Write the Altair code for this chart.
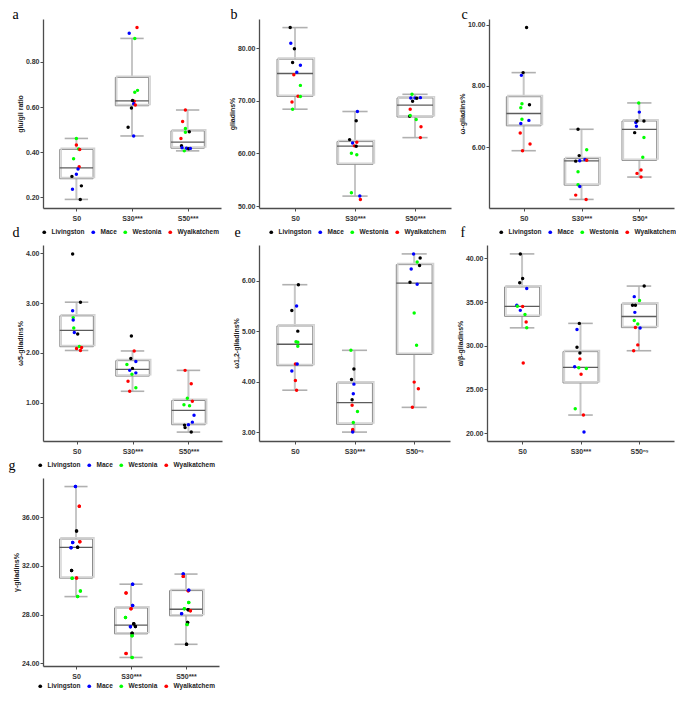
import altair as alt
import pandas as pd

VARIETIES = ["Livingston", "Mace", "Westonia", "Wyalkatchem"]
VAR_COLORS = ["#000000", "#0000ff", "#00ff00", "#ff0000"]
CODE = {"K": "Livingston", "B": "Mace", "G": "Westonia", "R": "Wyalkatchem"}

# ---- panel a : glu/gli ratio ----
A_VAL = [[0.461, 0.432, 0.414, 0.412, 0.371, 0.336, 0.326, 0.302, 0.293, 0.251, 0.236, 0.191],
         [0.952, 0.927, 0.904, 0.674, 0.666, 0.626, 0.629, 0.615, 0.609, 0.596, 0.511, 0.472],
         [0.587, 0.536, 0.505, 0.491, 0.488, 0.461, 0.429, 0.420, 0.418, 0.415, 0.417, 0.406]]
A_VAR = ["GRGRGRBBKKBK", "RBGGGRKBRKKB", "RRGKGRKBBKBG"]
A_JIT = [[0.00, 0.00, 0.04, 0.06, -0.05, 0.05, 0.03, 0.00, -0.08, 0.09, -0.07, 0.07],
         [0.09, -0.05, 0.05, 0.10, 0.05, 0.04, 0.01, 0.03, 0.06, -0.01, -0.07, 0.03],
         [-0.04, -0.09, -0.04, 0.03, -0.04, -0.12, -0.11, -0.10, -0.02, 0.02, 0.05, -0.06]]

# ---- panel b : gliadins% ----
B_VAL = [[83.96, 81.0, 79.94, 77.3, 76.8, 75.47, 74.97, 72.96, 70.9, 70.85, 69.81, 68.43],
         [67.99, 66.23, 62.64, 62.01, 62.14, 61.45, 61.38, 60.06, 59.75, 52.52, 51.89, 51.26],
         [71.26, 70.57, 70.57, 70.63, 70.5, 69.94, 68.43, 67.1, 67.23, 66.48, 65.09, 63.02]]
B_VAR = ["KBKKBBRGRGRG", "BKKBRRKGGGBR", "GBBBKKRKGGRR"]
B_JIT = [[-0.08, -0.07, -0.01, -0.04, 0.09, 0.03, -0.02, 0.09, 0.05, 0.09, -0.05, -0.04],
         [0.04, 0.02, -0.09, -0.04, 0.03, -0.01, 0.02, -0.06, 0.03, -0.06, 0.08, 0.09],
         [-0.05, -0.07, 0.00, 0.09, 0.03, -0.04, -0.08, -0.09, -0.08, 0.02, 0.10, 0.09]]

# ---- panel c : omega-gliadins% ----
C_VAL = [[9.90, 8.43, 8.34, 7.41, 7.38, 7.28, 6.91, 6.87, 6.77, 6.46, 6.10, 5.88],
         [6.58, 5.91, 5.72, 5.59, 5.57, 5.54, 5.55, 5.19, 4.77, 4.71, 4.43, 4.29],
         [7.44, 7.14, 6.80, 6.85, 6.85, 6.68, 6.47, 6.31, 5.67, 5.25, 5.14, 5.02]]
C_VAR = ["KKBGKGGBBRRR", "KGKBRKBGGBRR", "GBBKKBKGGRRR"]
C_JIT = [[0.05, -0.01, -0.04, -0.03, 0.10, -0.05, -0.03, 0.09, -0.05, -0.06, 0.11, -0.02],
         [-0.06, 0.09, -0.04, 0.06, 0.09, -0.10, -0.03, -0.06, -0.06, -0.03, -0.10, 0.08],
         [-0.01, 0.00, -0.06, -0.04, 0.08, -0.05, -0.08, 0.08, 0.06, 0.03, -0.04, 0.03]]

# ---- panel d : omega5-gliadins% ----
D_VAL = [[3.99, 3.02, 2.85, 2.71, 2.66, 2.50, 2.41, 2.38, 2.13, 2.11, 2.09, 2.05],
         [2.34, 2.04, 1.89, 1.83, 1.77, 1.69, 1.65, 1.60, 1.57, 1.43, 1.30, 1.23],
         [1.65, 1.38, 1.09, 1.03, 0.96, 0.94, 0.75, 0.61, 0.56, 0.55, 0.50, 0.41]]
D_VAR = ["KKBGBGBKGRRR", "KRKBGKBBGRGR", "RRGRGGBBBKKK"]
D_JIT = [[-0.07, 0.07, -0.07, -0.06, -0.06, -0.05, -0.04, 0.02, 0.05, 0.09, 0.00, 0.07],
         [-0.02, 0.03, -0.03, 0.06, -0.10, 0.00, -0.05, 0.06, -0.01, -0.08, 0.06, -0.05],
         [-0.06, 0.05, -0.02, 0.07, -0.08, 0.02, 0.10, 0.07, 0.00, -0.07, -0.06, 0.05]]

# ---- panel e : omega1,2-gliadins% ----
E_VAL = [[5.92, 5.50, 5.41, 5.00, 4.79, 4.78, 4.70, 4.35, 4.35, 4.21, 4.02, 3.83],
         [4.62, 4.25, 4.04, 3.95, 3.76, 3.64, 3.53, 3.41, 3.19, 3.05, 3.02, 3.00],
         [6.53, 6.45, 6.37, 6.30, 6.23, 5.97, 5.93, 5.36, 4.72, 3.99, 3.86, 3.49]]
E_VAR = ["KBKKGGGRBBRR", "GKKBBKRGGRRB", "BKGKBKBGGRRR"]
E_JIT = [[0.06, 0.03, -0.05, 0.05, 0.02, 0.05, 0.05, 0.01, 0.04, -0.05, 0.01, 0.03],
         [-0.06, -0.01, -0.05, -0.01, -0.02, -0.04, -0.04, 0.05, -0.02, -0.03, -0.03, -0.03],
         [-0.01, 0.10, 0.05, 0.09, -0.05, -0.07, 0.05, 0.00, 0.04, 0.00, 0.07, -0.03]]

# ---- panel f : alpha/beta-gliadins% ----
F_VAL = [[40.51, 37.69, 37.22, 36.56, 34.64, 34.52, 34.48, 34.05, 33.58, 32.72, 32.05, 28.02],
         [32.56, 31.86, 29.82, 29.16, 28.49, 27.59, 27.48, 27.40, 26.73, 22.78, 22.07, 20.12],
         [36.83, 35.62, 35.19, 34.64, 34.64, 33.82, 32.88, 32.49, 32.09, 32.02, 30.10, 29.43]]
F_VAR = ["KKKBBGRBGRGR", "KBKKRBGGRGRB", "KBGKKBGGRBRR"]
F_JIT = [[-0.03, 0.01, -0.04, 0.08, -0.09, -0.08, 0.01, -0.03, 0.05, 0.07, 0.08, 0.02],
         [-0.02, -0.06, -0.06, -0.01, -0.01, -0.10, -0.03, 0.10, 0.01, -0.09, 0.05, 0.06],
         [0.09, -0.08, 0.01, -0.11, -0.06, -0.07, -0.08, -0.02, -0.06, 0.02, -0.02, -0.09]]

# ---- panel g : gamma-gliadins% ----
G_VAL = [[38.52, 36.91, 34.87, 33.99, 33.93, 33.50, 33.53, 31.62, 30.98, 31.00, 29.94, 29.48],
         [30.50, 29.77, 28.75, 28.48, 27.76, 27.25, 27.03, 27.00, 26.47, 26.26, 24.81, 24.48],
         [31.33, 31.14, 29.96, 30.01, 29.00, 28.48, 28.40, 28.32, 28.08, 27.36, 27.19, 25.56]]
G_VAR = ["BRKRBBKKGRGG", "BRBRGKKBKGRG", "BRRBGGKRBKGK"]
G_JIT = [[-0.01, 0.06, 0.01, 0.07, -0.06, -0.09, 0.03, -0.08, -0.07, 0.01, 0.08, 0.03],
         [0.03, -0.09, 0.03, 0.00, -0.10, 0.05, 0.08, -0.01, 0.02, 0.02, -0.09, 0.02],
         [-0.05, -0.05, 0.04, 0.05, 0.05, -0.03, 0.04, 0.08, -0.08, 0.03, 0.02, 0.01]]

Y_TITLES = {"a": "glu/gli ratio", "b": "gliadins%", "c": "ω-gliadins%", "d": "ω5-gliadins%",
            "e": "ω1,2-gliadins%", "f": "α/β-gliadins%", "g": "γ-gliadins%"}
Y_TICKS = {"a": [0.2, 0.4, 0.6, 0.8], "b": [50, 60, 70, 80], "c": [6, 8, 10], "d": [1, 2, 3, 4],
           "e": [3, 4, 5, 6], "f": [20, 25, 30, 35, 40], "g": [24, 28, 32, 36]}
X_LABELS = {"a": ["S0", "S30***", "S50***"], "b": ["S0", "S30***", "S50***"],
            "c": ["S0", "S30***", "S50*"], "d": ["S0", "S30***", "S50***"],
            "e": ["S0", "S30***", "S50ⁿˢ"], "f": ["S0", "S30***", "S50ⁿˢ"],
            "g": ["S0", "S30***", "S50***"]}

FONT = "Liberation Sans"


def build_df(vals, codes, jits):
    rows = []
    for gi in range(3):
        for v, c, j in zip(vals[gi], codes[gi], jits[gi]):
            rows.append({"grp": gi + 1, "val": v, "variety": CODE[c], "jit": j})
    return pd.DataFrame(rows)


def legend_def(lx, ly):
    return alt.Legend(orient="none", legendX=lx, legendY=ly, direction="horizontal", title=None,
                      symbolType="circle", symbolSize=14, symbolStrokeWidth=0, gridAlign="none",
                      labelFont=FONT, labelFontSize=6.5, labelFontWeight="bold", labelColor="#222",
                      columnPadding=5, labelOffset=4, padding=0)


def panel(letter, vals, codes, jits, width, height, dx=0, toffset=2,
          legend_top=None, legend_bottom=None):
    df = build_df(vals, codes, jits)
    allv = [v for g in vals for v in g]
    lo, hi = min(allv), max(allv)
    r = hi - lo
    ydom = [lo - 0.05 * r, hi + 0.05 * r]
    xl = X_LABELS[letter]
    label_expr = (f"datum.value == 1 ? '{xl[0]}' : datum.value == 2 ? '{xl[1]}' : '{xl[2]}'")
    xscale = alt.Scale(domain=[0.4, 3.6], nice=False, zero=False)
    yscale = alt.Scale(domain=ydom, nice=False, zero=False)
    xaxis = alt.Axis(values=[1, 2, 3], labelExpr=label_expr, title=None, grid=False)
    yaxis = alt.Axis(values=Y_TICKS[letter], format=".2f", title=Y_TITLES[letter], grid=False)

    base = alt.Chart(df)
    stats = (base.transform_joinaggregate(q1="q1(val)", q3="q3(val)", med="median(val)", groupby=["grp"])
             .transform_calculate(lof="datum.q1 - 1.5*(datum.q3 - datum.q1)",
                                  hif="datum.q3 + 1.5*(datum.q3 - datum.q1)")
             .transform_filter("datum.val >= datum.lof - 1e-9 && datum.val <= datum.hif + 1e-9")
             .transform_aggregate(wmin="min(val)", wmax="max(val)", q1="min(q1)", q3="min(q3)",
                                  med="min(med)", groupby=["grp"])
             .transform_calculate(bx0="datum.grp - 0.3", bx1="datum.grp + 0.3",
                                  cx0="datum.grp - 0.21", cx1="datum.grp + 0.21"))

    X = lambda f: alt.X(f, scale=xscale, axis=xaxis)
    Y = lambda f: alt.Y(f, scale=yscale, axis=yaxis)

    whisker = stats.mark_rule(color="#c6c6c6", strokeWidth=2).encode(
        x=X("grp:Q"), y=Y("wmin:Q"), y2="wmax:Q")
    cap_hi = stats.mark_rule(color="#b0b0b0", strokeWidth=1.6).encode(
        x=X("cx0:Q"), x2="cx1:Q", y=Y("wmax:Q"))
    cap_lo = stats.mark_rule(color="#b0b0b0", strokeWidth=1.6).encode(
        x=X("cx0:Q"), x2="cx1:Q", y=Y("wmin:Q"))
    box = stats.mark_rect(fill="white", stroke="#8c8c8c", strokeWidth=1).encode(
        x=X("bx0:Q"), x2="bx1:Q", y=Y("q1:Q"), y2="q3:Q")
    shadow = stats.mark_rect(fillOpacity=0, stroke="#d2d2d2", strokeWidth=1.4,
                             xOffset=1.5, x2Offset=1.5, yOffset=-1.2, y2Offset=-1.2).encode(
        x=X("bx0:Q"), x2="bx1:Q", y=Y("q1:Q"), y2="q3:Q")
    median = stats.mark_rule(color="#5c5c5c", strokeWidth=1.3).encode(
        x=X("bx0:Q"), x2="bx1:Q", y=Y("med:Q"))

    pts_base = base.transform_calculate(xp="datum.grp + datum.jit")
    if legend_top:
        col = alt.Color("variety:N", scale=alt.Scale(range=VAR_COLORS), legend=legend_def(*legend_top))
    else:
        col = alt.Color("variety:N", scale=alt.Scale(range=VAR_COLORS), legend=None)
    points = pts_base.mark_circle(size=12, opacity=1).encode(x=X("xp:Q"), y=Y("val:Q"), color=col)

    layers = [whisker, box, shadow, median, cap_hi, cap_lo, points]
    if legend_bottom:
        points2 = pts_base.mark_circle(size=12, opacity=1).encode(
            x=X("xp:Q"), y=Y("val:Q"),
            fill=alt.Fill("variety:N", scale=alt.Scale(domain=VARIETIES, range=VAR_COLORS),
                          legend=legend_def(*legend_bottom)))
        layers.append(points2)

    return alt.layer(*layers).properties(
        width=width, height=height,
        title=alt.Title(letter, anchor="start", frame="bounds", font="Liberation Serif",
                        fontSize=14, fontWeight="normal", color="#000", offset=toffset, dx=dx))


pa = panel("a", A_VAL, A_VAR, A_JIT, 178, 189, dx=-4, toffset=-3)
pb = panel("b", B_VAL, B_VAR, B_JIT, 192, 189, dx=2, toffset=-3)
pc = panel("c", C_VAL, C_VAR, C_JIT, 185, 189, dx=3, toffset=-3)
pd_ = panel("d", D_VAL, D_VAR, D_JIT, 179, 196, dx=-4, toffset=-11, legend_top=(-2, -16))
pe = panel("e", E_VAL, E_VAR, E_JIT, 191, 196, dx=2, toffset=-11, legend_top=(9, -16))
pf = panel("f", F_VAL, F_VAR, F_JIT, 187, 196, dx=4, toffset=-11, legend_top=(11, -16))
pg = panel("g", G_VAL, G_VAR, G_JIT, 176, 188, dx=-4, toffset=-11, legend_top=(-6, -16),
           legend_bottom=(-6, 205))

RES = dict(color="independent", fill="independent")
row1 = (alt.hconcat(pa, pb, pc, spacing=38, bounds="flush")
        .resolve_scale(**RES).resolve_legend(**RES))
row2 = (alt.hconcat(pd_, pe, pf, spacing=37, bounds="flush")
        .resolve_scale(**RES).resolve_legend(**RES))
row3 = alt.hconcat(pg, spacing=5, bounds="flush").resolve_scale(**RES).resolve_legend(**RES)

chart = (alt.vconcat(row1, row2, row3, spacing=5)
         .resolve_scale(**RES).resolve_legend(**RES)
         .properties(padding={"left": 0, "top": 0, "right": 0, "bottom": 0})
         .configure_view(stroke=None)
         .configure_axis(domainColor="#4d4d4d", domainWidth=1.3, tickColor="#4d4d4d", tickSize=3,
                         tickWidth=1, labelFont=FONT, labelFontSize=7, labelFontWeight="bold",
                         labelColor="#333333", titleFont=FONT, titleFontSize=7,
                         titleFontWeight="bold", titleColor="#222222", grid=False)
         .configure_axisY(titlePadding=2, labelPadding=1)
         .configure_axisX(labelPadding=3))

chart.save("out.html", embed_options={"renderer": "svg", "actions": False})
